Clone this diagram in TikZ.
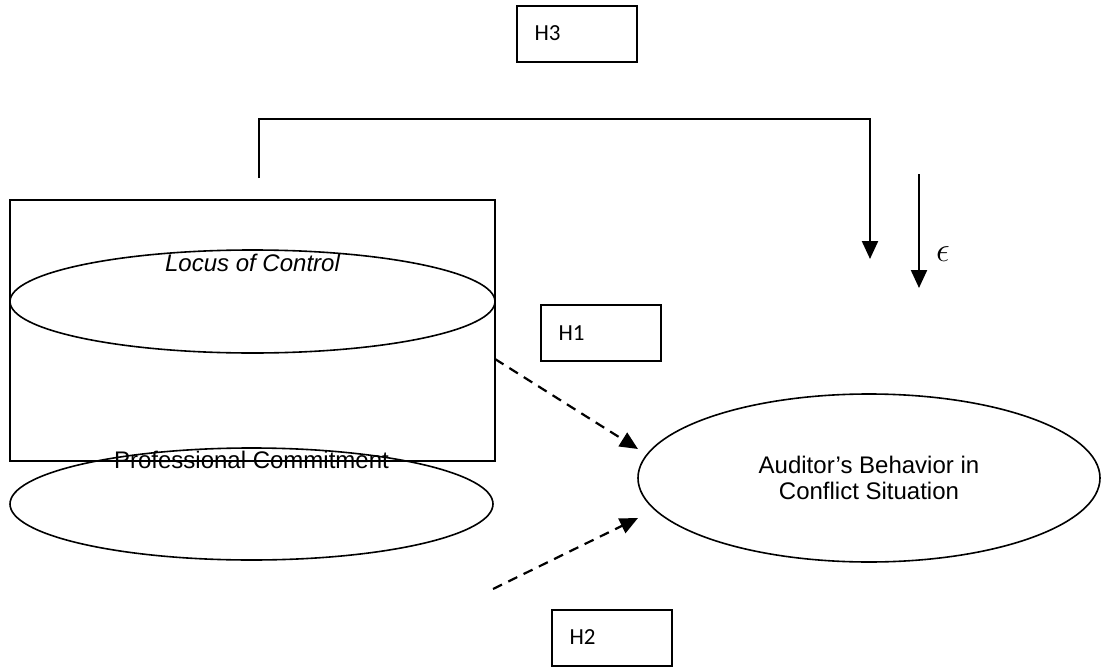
\documentclass[tikz,border=0pt]{standalone}
\usepackage{fontspec}
\setmainfont{Liberation Sans}
\newfontfamily\hfont{Carlito}
\usetikzlibrary{shapes.geometric,arrows.meta,positioning}

\begin{document}
\begin{tikzpicture}[
    x=0.5pt, y=-0.5pt,
    hbox/.style={rectangle, draw, line width=1pt, minimum width=60pt,
                 minimum height=28pt, font=\hfont\fontsize{11.5}{13}\selectfont,
                 text width=50pt, align=left},
    construct/.style={ellipse, draw, line width=0.8pt, inner sep=0pt,
                      font=\fontsize{12}{13}\selectfont},
    arrow/.style={-{Triangle[width=8pt,length=9pt]}, line width=1.1pt},
    dasharrow/.style={arrow, dash pattern=on 5pt off 3.5pt}
  ]
  \useasboundingbox (0,0) rectangle (1104,669);

  % ---- Hypothesis boxes ----
  \node[hbox] (h3) at (576.5,33.5) {\hspace{4pt}H3};
  \node[hbox] (h1) at (600.5,333)  {\hspace{4pt}H1};
  \node[hbox] (h2) at (611.5,637.5){\hspace{4pt}H2};

  % ---- Independent variables ----
  \node[draw, line width=1pt, minimum width=242.5pt, minimum height=130.5pt,
        inner sep=0pt] (indep) at (252.5,330.5) {};
  \node[construct, minimum width=242.5pt, minimum height=51.5pt,
        label={[yshift=-15pt, font=\itshape\fontsize{12}{14}\selectfont]north:Locus of Control}]
        (loc) at (252.5,301.5) {};
  \node[construct, minimum width=241.5pt, minimum height=56pt,
        label={[yshift=-14.5pt, font=\fontsize{12}{14}\selectfont]north:Professional Commitment}]
        (pc) at (251.5,504) {};

  % ---- Dependent variable ----
  \node[construct, minimum width=231pt, minimum height=84pt, align=center]
        (abc) at (869,478) {Auditor's Behavior in\\Conflict Situation};

  % ---- Arrows ----
  \coordinate (d1s) at (495,359);
  \coordinate (d1e) at (638,449);
  \coordinate (d2s) at (493,589);
  \coordinate (d2e) at (638,518);
  \draw[dasharrow] (d1s) -- (d1e);
  \draw[dasharrow] (d2s) -- (d2e);

  \coordinate (fbs) at (259,178);
  \coordinate (fbt) at (870,119);
  \coordinate (fbe) at (870,259);
  \draw[arrow] (fbs) |- (fbt) -- (fbe);

  \coordinate (eps) at (919,174);
  \coordinate (epe) at (919,288);
  \draw[arrow] (eps) -- (epe);
  \node[font=\fontsize{16}{18}\selectfont] (epsl) at (943,254) {$\epsilon$};
\end{tikzpicture}
\end{document}
